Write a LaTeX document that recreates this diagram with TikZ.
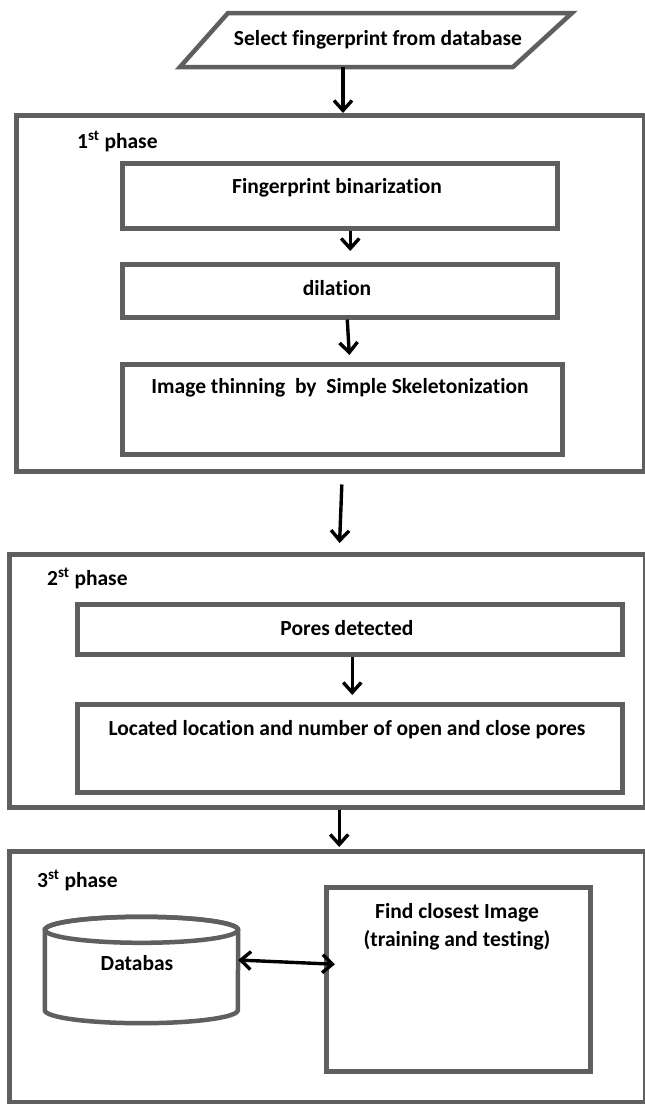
\documentclass[tikz,border=0pt]{standalone}
\usepackage{fontspec}
\setmainfont[Ligatures={NoCommon}]{Carlito}
\usetikzlibrary{arrows.meta,calc}
\definecolor{boxgray}{RGB}{95,95,95}
\begin{document}
\begin{tikzpicture}[x=1pt,y=-1pt,
  box/.style={draw=boxgray, line width=4.5pt, fill=white, inner sep=0pt, anchor=north west},
  txt/.style={font=\fontsize{21.5}{25}\selectfont\bfseries, inner sep=0pt, anchor=base},
  arr/.style={-{Straight Barb[length=10pt,width=18pt]}, line width=3.4pt, black},
  darr/.style={{Straight Barb[length=10pt,width=18pt]}-{Straight Barb[length=10pt,width=18pt]}, line width=3.4pt, black},
]
\useasboundingbox (0,0) rectangle (645,1104);

% input parallelogram
\draw[boxgray, line width=4.5pt, fill=white] (228,13) -- (572,13) -- (513,67) -- (180,67) -- cycle;
\coordinate (selB) at (343,67);
\node[txt] (sel) at (378,45) {Select fingerprint from database};

% phase 1
\node[box, minimum width=628pt, minimum height=356pt] (ph1) at (14,113) {};
\node[txt, anchor=base west] (l1) at (77,148) {1\textsuperscript{st} phase};
\node[box, minimum width=435pt, minimum height=65pt] (bin) at (120,161) {};
\node[txt] (bint) at (337,193) {Fingerprint binarization};
\node[box, minimum width=435pt, minimum height=53pt] (dil) at (120,262) {};
\node[txt] (dilt) at (337,295) {dilation};
\node[box, minimum width=440pt, minimum height=90pt] (thin) at (120,362) {};
\node[txt] (thint) at (340,393) {Image thinning\ \ by\ \ Simple Skeletonization};

% phase 2
\node[box, minimum width=636pt, minimum height=253pt] (ph2) at (7,552) {};
\node[txt, anchor=base west] (l2) at (47,585) {2\textsuperscript{st} phase};
\node[box, minimum width=545pt, minimum height=50pt] (pores) at (75,602) {};
\node[txt] (porest) at (347,635) {Pores detected};
\node[box, minimum width=545pt, minimum height=88pt] (loc) at (75,702) {};
\node[txt] (loct) at (347,735) {Located location and number of open and close pores};

% phase 3
\node[box, minimum width=636pt, minimum height=251pt] (ph3) at (7,849) {};
\node[txt, anchor=base west] (l3) at (37,887) {3\textsuperscript{st} phase};
\node[box, minimum width=264pt, minimum height=184pt] (find) at (324,885) {};
\node[txt] (find1) at (457,918) {Find closest Image};
\node[txt] (find2) at (457,946) {(training and testing)};

% database cylinder
\node[inner sep=0pt, minimum width=193pt, minimum height=106pt] (db) at (141.5,970) {};
\draw[boxgray, line width=4.5pt, fill=white]
  ($(db.north west)+(0,13)$) -- ($(db.south west)+(0,-13)$)
  arc[start angle=180, end angle=360, x radius=96.5pt, y radius=13pt]
  -- ($(db.north east)+(0,13)$)
  arc[start angle=0, end angle=180, x radius=96.5pt, y radius=13pt] -- cycle;
\draw[boxgray, line width=4.5pt] ($(db.north)+(0,13)$) ellipse[x radius=96.5pt, y radius=13pt];
\node[txt] (dbt) at (137,970) {Databas};

% connectors
\draw[arr] (selB) -- (selB |- ph1.north);
\draw[arr, shorten >=11pt] ([xshift=10.5pt]bin.south) -- ([xshift=10.5pt]dil.north);
\draw[arr, shorten >=7pt] ([xshift=7.5pt]dil.south) -- ([xshift=7.5pt]thin.north);
\draw[arr, shorten <=11pt, shorten >=9pt] ([xshift=12pt]ph1.south) -- ([xshift=12pt]ph2.north);
\draw[arr, shorten >=7pt] ([xshift=2.5pt]pores.south) -- ([xshift=2.5pt]loc.north);
\draw[arr, shorten >=2pt] ([xshift=12pt]ph2.south) -- ([xshift=12pt]ph3.north);
\draw[darr] ($(db.east)+(0,-10)$) -- ($(find.west)+(11,-15)$);
\end{tikzpicture}
\end{document}
